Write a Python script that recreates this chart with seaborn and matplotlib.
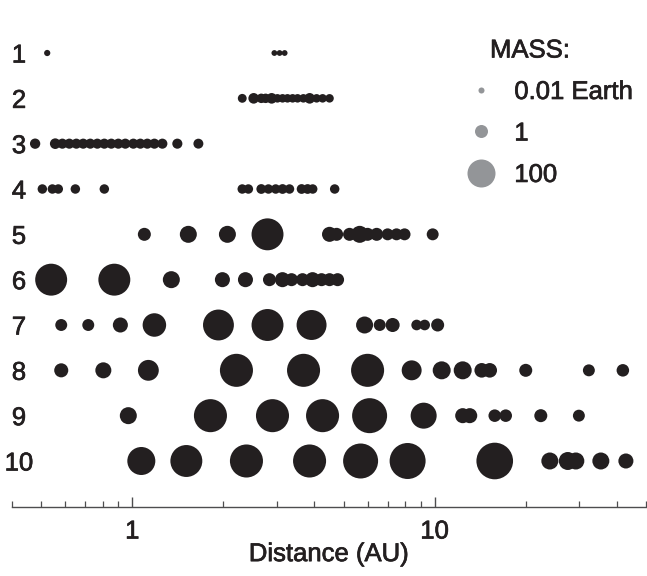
import numpy as np
import pandas as pd
import matplotlib
matplotlib.use("Agg")
import matplotlib.pyplot as plt
import matplotlib.transforms as mtransforms
import matplotlib.patheffects as pe
from matplotlib.lines import Line2D
from matplotlib.ticker import LogLocator, NullFormatter, FixedLocator, FixedFormatter
import seaborn as sns

# ---------------- data (distance in AU, mass in Earth masses) ----------------
system_labels = ["1", "2", "3", "4", "5", "6", "7", "8", "9", "10"]

sys1_au = [0.523, 2.95, 3.07, 3.19]
sys1_mass = [0.012, 0.008, 0.008, 0.008]

sys2_au = [2.31, 2.52, 2.67, 2.76, 2.89, 3.02, 3.14, 3.26, 3.39, 3.52, 3.68, 3.86, 4.07, 4.26, 4.49]
sys2_mass = [0.1, 0.3, 0.15, 0.15, 0.3, 0.08, 0.08, 0.08, 0.08, 0.08, 0.08, 0.3, 0.08, 0.08, 0.08]

sys3_au = [0.477, 0.556, 0.587, 0.619, 0.653, 0.688, 0.726, 0.766, 0.808, 0.852,
           0.899, 0.948, 1.008, 1.063, 1.121, 1.183, 1.257, 1.409, 1.654]
sys3_mass = [0.25, 0.3, 0.22, 0.22, 0.22, 0.22, 0.22, 0.22, 0.22, 0.22,
             0.22, 0.22, 0.22, 0.22, 0.22, 0.22, 0.22, 0.22, 0.2]

sys4_au = [0.504, 0.544, 0.569, 0.648, 0.808, 2.31, 2.42, 2.67, 2.82, 2.98,
           3.14, 3.31, 3.63, 3.80, 3.95, 4.67]
sys4_mass = [0.15, 0.15, 0.15, 0.15, 0.15, 0.15, 0.15, 0.18, 0.15, 0.15,
             0.18, 0.15, 0.18, 0.18, 0.15, 0.15]

sys5_au = [1.096, 1.532, 2.063, 2.80, 4.49, 4.74, 5.23, 5.65, 6.00, 6.43, 6.99, 7.48, 7.95, 9.85]
sys5_mass = [1.0, 5.0, 5.0, 220, 2.4, 1.0, 1.0, 5.0, 1.0, 1.0, 0.6, 0.6, 0.6, 0.6]

sys6_au = [0.539, 0.872, 1.346, 1.986, 2.367, 2.842, 3.138, 3.362, 3.656, 3.946, 4.226, 4.491, 4.774]
sys6_mass = [220, 220, 5.0, 2.4, 2.4, 1.0, 2.4, 1.0, 1.0, 2.4, 1.0, 1.0, 1.0]

sys7_au = [0.582, 0.715, 0.913, 1.183, 1.927, 2.80, 3.916, 5.864, 6.58, 7.26, 8.717, 9.267, 10.23]
sys7_mass = [0.6, 0.6, 2.4, 35, 180, 220, 150, 5.0, 0.6, 1.6, 0.3, 0.3, 1.0]

sys8_au = [0.582, 0.802, 1.130, 2.210, 3.684, 6.000, 8.393, 10.55, 12.38, 14.31, 15.21, 20.01, 32.36, 41.92]
sys8_mass = [1.6, 3.5, 17, 270, 270, 270, 13, 7, 7, 2.0, 2.0, 1.0, 0.6, 0.8]

sys9_au = [0.970, 1.813, 2.908, 4.258, 6.093, 9.196, 12.38, 13.06, 15.80, 17.18, 22.44, 29.99]
sys9_mass = [5, 270, 270, 270, 380, 64, 2.4, 2.4, 0.8, 0.8, 1.0, 0.6]

sys10_au = [1.071, 1.509, 2.385, 3.857, 5.689, 8.138, 15.80, 24.04, 27.56, 29.30, 35.45, 42.90]
sys10_mass = [100, 220, 270, 270, 380, 450, 500, 5, 7, 5, 5, 2.4]

legend_masses = [0.01, 1, 100]
legend_labels = ["0.01 Earth", "1", "100"]
x_tick_values = [1, 10]
x_tick_labels = ["1", "10"]

all_au = [sys1_au, sys2_au, sys3_au, sys4_au, sys5_au, sys6_au, sys7_au, sys8_au, sys9_au, sys10_au]
all_mass = [sys1_mass, sys2_mass, sys3_mass, sys4_mass, sys5_mass, sys6_mass, sys7_mass, sys8_mass, sys9_mass, sys10_mass]

frames = []
for i, (au, m) in enumerate(zip(all_au, all_mass)):
    frames.append(pd.DataFrame({"system": i + 1, "distance": au, "mass": m}))
df = pd.concat(frames, ignore_index=True)

# marker area (pt^2) proportional to mass^(1/3)
AREA_K = 87.6
df["mroot"] = df["mass"] ** (1.0 / 3.0)
vmax = df["mroot"].max()

# ---------------- style ----------------
sns.set_theme(style="white")
plt.rcParams["font.family"] = ["Liberation Sans", "DejaVu Sans"]
TXT = "#231f20"
DOT = "#231f20"
GREY = "#939598"
FS = 18.5
HEAVY = [pe.withStroke(linewidth=0.5, foreground=TXT)]

W, H = 647, 576
fig = plt.figure(figsize=(W / 100, H / 100), dpi=100)
ax = fig.add_axes([12 / W, 69 / H, (646 - 12) / W, (H - 69) / H])

sns.scatterplot(
    data=df, x="distance", y="system", size="mroot",
    sizes=(0, AREA_K * vmax), size_norm=(0, vmax),
    color=DOT, linewidth=0, alpha=1, legend=False, ax=ax,
)

ax.set_xscale("log")
ax.set_xlim(0.4, 50)
row_px = 45.33
ax.set_ylim(10 + (507 - 461) / row_px, 1 - 53 / row_px)

for s in ["left", "top", "right"]:
    ax.spines[s].set_visible(False)
ax.spines["bottom"].set_color("#4d4d4f")
ax.spines["bottom"].set_linewidth(1.0)

ax.xaxis.set_major_locator(FixedLocator(x_tick_values))
ax.xaxis.set_major_formatter(FixedFormatter(x_tick_labels))
ax.xaxis.set_minor_locator(LogLocator(base=10, subs=np.arange(2, 10)))
ax.xaxis.set_minor_formatter(NullFormatter())
ax.tick_params(axis="x", which="major", direction="in", length=7.5, width=1.0,
               color="#4d4d4f", labelsize=FS, labelcolor=TXT, pad=9, bottom=True)
ax.tick_params(axis="x", which="minor", direction="in", length=4, width=0.9,
               color="#4d4d4f", bottom=True)
ax.set_yticks([])
ax.set_ylabel("")
ax.set_xlabel("Distance (AU)", fontsize=FS, color=TXT, labelpad=-1)
ax.xaxis.label.set_path_effects(HEAVY)
for t in ax.get_xticklabels():
    t.set_path_effects(HEAVY)

# row labels
trans = mtransforms.blended_transform_factory(fig.transFigure, ax.transData)
for i, lab in enumerate(system_labels):
    ax.text(19 / W, i + 1, lab, transform=trans, ha="center", va="center_baseline",
            fontsize=FS, color=TXT, path_effects=HEAVY)

# legend
handles = [Line2D([], [], linestyle="", marker="o", markeredgewidth=0,
                  markerfacecolor=GREY, color=GREY,
                  markersize=np.sqrt(AREA_K * m ** (1.0 / 3.0)))
           for m in legend_masses]
leg = ax.legend(handles, legend_labels, loc="upper left",
                bbox_to_anchor=(466 / W, 1 - 80 / H), bbox_transform=fig.transFigure,
                frameon=False, fontsize=FS, handlelength=1.2, handletextpad=0.68,
                labelspacing=0.68, borderpad=0, borderaxespad=0)
for t in leg.get_texts():
    t.set_color(TXT)
    t.set_path_effects(HEAVY)
fig.text(490 / W, 1 - 48 / H, "MASS:", ha="left", va="center_baseline",
         fontsize=FS, color=TXT, path_effects=HEAVY)

fig.savefig("out.png", dpi=100)
